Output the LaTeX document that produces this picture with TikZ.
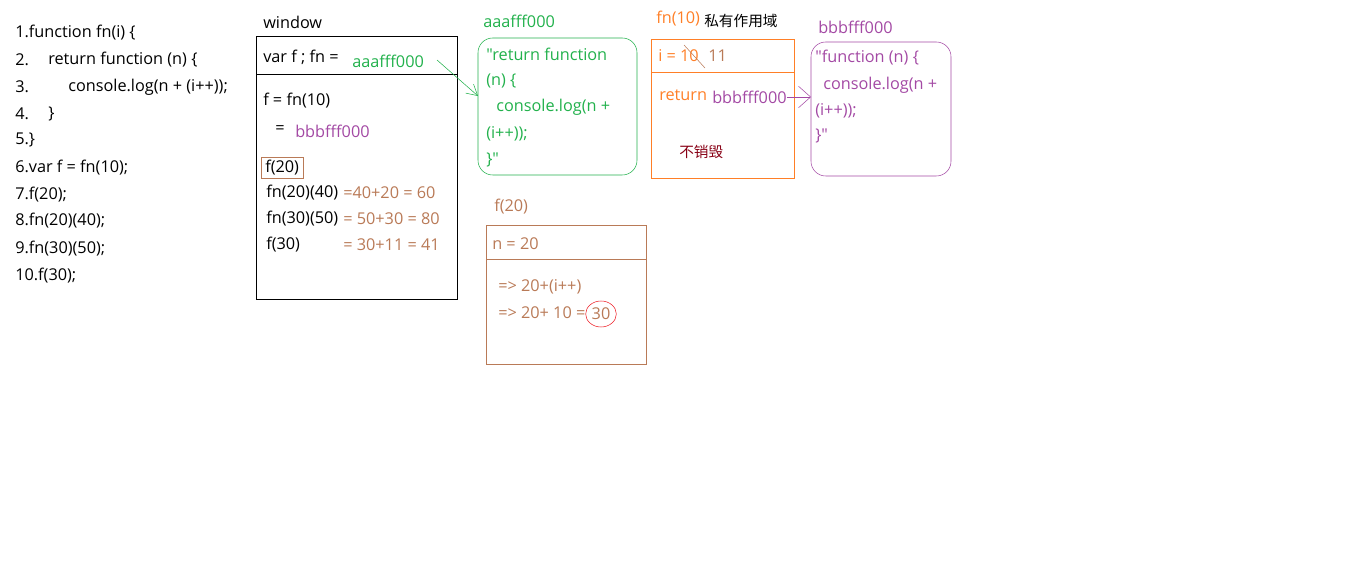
\documentclass[tikz,border=0pt]{standalone}
\usepackage{fontspec}
\newfontfamily\codefont{Open Sans}
\newfontfamily\cjkfont{Noto Sans CJK SC}
\usepackage{tikz}
\usetikzlibrary{arrows.meta,shapes.geometric}

\definecolor{pgreen}{RGB}{34,177,76}
\definecolor{ppurple}{RGB}{163,73,164}
\definecolor{porange}{RGB}{255,127,39}
\definecolor{pbrown}{RGB}{185,122,87}
\definecolor{pdarkred}{RGB}{136,0,21}
\definecolor{pred}{RGB}{237,28,36}

\tikzset{
  txt/.style={anchor=west, inner sep=0pt, font=\codefont\fontsize{12.2}{14}\selectfont},
  cjk/.style={anchor=west, inner sep=0pt, font=\cjkfont\fontsize{11}{13}\selectfont},
}

\begin{document}
\begin{tikzpicture}[x=0.75pt,y=0.75pt,yscale=-1,xscale=1]
\useasboundingbox (0,0) rectangle (1360,580);

% Code lines
\node [txt] (c1) at (15,33) {1.function fn(i) \{};
\node [txt] (c2n) at (15,60) {2.};
\node [txt] (c2) at (48,60) {return function (n) \{};
\node [txt] (c3n) at (15,87) {3.};
\node [txt] (c3) at (68,87) {console.log(n + (i++));};
\node [txt] (c4n) at (15,114) {4.};
\node [txt] (c4) at (48,114) {\}};
\node [txt] (c5) at (15,140) {5.\}};
\node [txt] (c6) at (15,168) {6.var f = fn(10);};
\node [txt] (c7) at (15,195) {7.f(20);};
\node [txt] (c8) at (15,221) {8.fn(20)(40);};
\node [txt] (c9) at (15,249) {9.fn(30)(50);};
\node [txt] (c10) at (15,276) {10.f(30);};

%Shape: Rectangle (window)
\draw (256,36) rectangle (457,299);
\draw (256,74) -- (458,74);
% Text Node
\node [txt] (winlbl) at (263,22) {window};
\node [txt] (varf) at (263,57) {var f ; fn =};
\node [txt, text=pgreen] (aaa) at (352,61) {aaafff000};
\node [txt] (ffn) at (263,101) {f = fn(10)};
\node [txt] (eqb) at (275,130) {=};
\node [txt, text=ppurple] (bbbw) at (295,131) {bbbfff000};
\node [txt, draw=pbrown, inner xsep=3pt, minimum height=15.75pt] (f20) at (261,168) {f(20)};
\node [txt] (fn2040) at (266,193) {fn(20)(40)};
\node [txt, text=pbrown] (res1) at (343,193) {=40+20 = 60};
\node [txt] (fn3050) at (266,219) {fn(30)(50)};
\node [txt, text=pbrown] (res2) at (343,219) {= 50+30 = 80};
\node [txt] (f30) at (266,245) {f(30)};
\node [txt, text=pbrown] (res3) at (343,245) {= 30+11 = 41};

%Shape: Rounded Rect (aaafff000)
\draw [pgreen, rounded corners=11pt] (478,38) rectangle (637,175);
% Text Node
\node [txt, text=pgreen] (aaalbl) at (483,21) {aaafff000};
\node [txt, text=pgreen] (g1) at (486,54) {"return function};
\node [txt, text=pgreen] (g2) at (486,81) {(n) \{};
\node [txt, text=pgreen] (g3) at (496,107) {console.log(n +};
\node [txt, text=pgreen] (g4) at (486,134) {(i++));};
\node [txt, text=pgreen] (g5) at (486,160) {\}"};

%Straight Lines (fn -> aaafff000)
\coordinate (gstart) at (437,60);
\coordinate (gend) at (478,96);
\draw [pgreen, -{Straight Barb[length=8pt,width=9pt]}] (gstart) -- (gend);

%Shape: Rectangle (fn(10) scope)
\draw [porange] (651,39) rectangle (794,178);
\draw [porange] (651,72) -- (795,72);
% Text Node
\node [txt, text=porange] (fnlbl) at (656,19) {fn(10)};
\node [cjk] (scope) at (704,21) {私有作用域};
\node [txt, text=porange] (ival) at (658,56) {i = 10};
\node [txt, text=pbrown] (inew) at (708,56) {11};
\draw [pbrown] (684,45) -- (705,68);
\node [txt, text=porange] (ret) at (659,95) {return};
\node [txt, text=ppurple] (bbbr) at (712,97) {bbbfff000};
\node [cjk, text=pdarkred] (keep) at (679,152) {不销毁};

%Shape: Rounded Rect (bbbfff000)
\draw [ppurple, rounded corners=11pt] (811,42) rectangle (951,176);
% Text Node
\node [txt, text=ppurple] (bbblbl) at (818,27) {bbbfff000};
\node [txt, text=ppurple] (p1) at (815,58) {"function (n) \{};
\node [txt, text=ppurple] (p2) at (823,85) {console.log(n +};
\node [txt, text=ppurple] (p3) at (815,111) {(i++));};
\node [txt, text=ppurple] (p4) at (815,136) {\}"};

%Straight Lines (return -> bbbfff000)
\coordinate (pend) at (811,97);
\draw [ppurple, -{Straight Barb[length=9pt,width=16pt]}] (bbbr.east) -- (pend);

%Shape: Rectangle (f(20))
\draw [pbrown] (486,225) rectangle (646,364);
\draw [pbrown] (486,259) -- (647,259);
% Text Node
\node [txt, text=pbrown] (f20lbl) at (494,207) {f(20)};
\node [txt, text=pbrown] (nval) at (492,244) {n = 20};
\node [txt, text=pbrown] (step1) at (498,287) {=> 20+(i++)};
\node [txt, text=pbrown] (step2) at (498,313) {=> 20+ 10 =};
\node [ellipse, draw=pred, text=pbrown, inner sep=0pt, minimum width=23pt, minimum height=19.5pt, font=\codefont\fontsize{12.2}{14}\selectfont] (thirty) at (601,314) {30};

\end{tikzpicture}
\end{document}
